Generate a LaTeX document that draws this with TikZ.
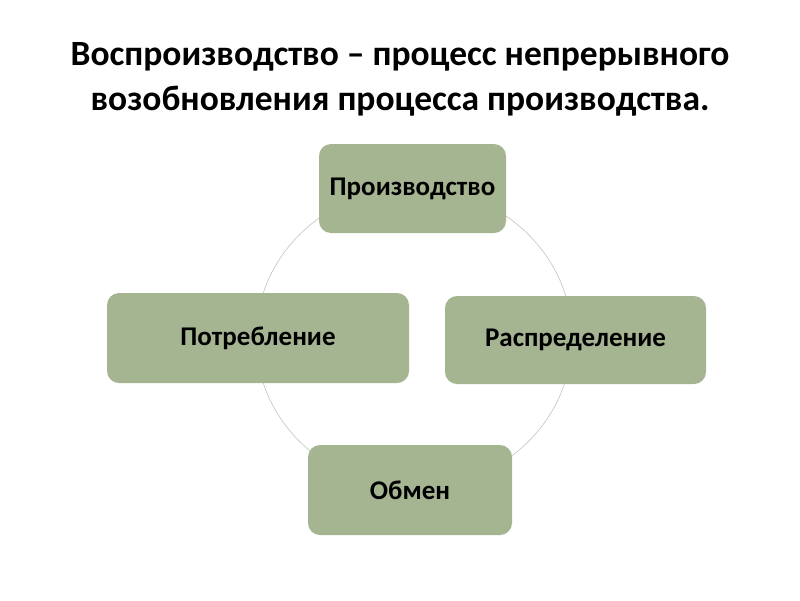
\documentclass[tikz,border=0pt]{standalone}
\usepackage{fontspec}
\setmainfont{Carlito}
\definecolor{boxgreen}{HTML}{A5B592}
\definecolor{ringgray}{HTML}{C4C4BE}
\begin{document}
\begin{tikzpicture}[x=1pt,y=-1pt,
  stage/.style={draw=none,fill=boxgreen,rounded corners=12pt,inner sep=0pt,
    font=\fontsize{27}{30}\selectfont\bfseries,text=black},
  ring/.style={draw=ringgray,line width=0.6pt}]
\useasboundingbox (0,0) rectangle (800,600);
\fill[white] (0,0) rectangle (800,600);
\node[font=\fontsize{35.5}{45}\selectfont\bfseries,align=center] (title) at (400,79)
  {Воспроизводство – процесс непрерывного\\возобновления процесса производства.};
\draw[ring] (414,338) ellipse [x radius=158, y radius=150];
\node[stage,minimum width=187pt,minimum height=89pt] (prod) at (412.5,188.5) {Производство};
\node[stage,minimum width=302pt,minimum height=90pt] (potr) at (258,338) {Потребление};
\node[stage,minimum width=261pt,minimum height=88pt] (rasp) at (575.5,340) {Распределение};
\node[stage,minimum width=204pt,minimum height=90pt] (obm) at (410,490) {Обмен};
\end{tikzpicture}
\end{document}
